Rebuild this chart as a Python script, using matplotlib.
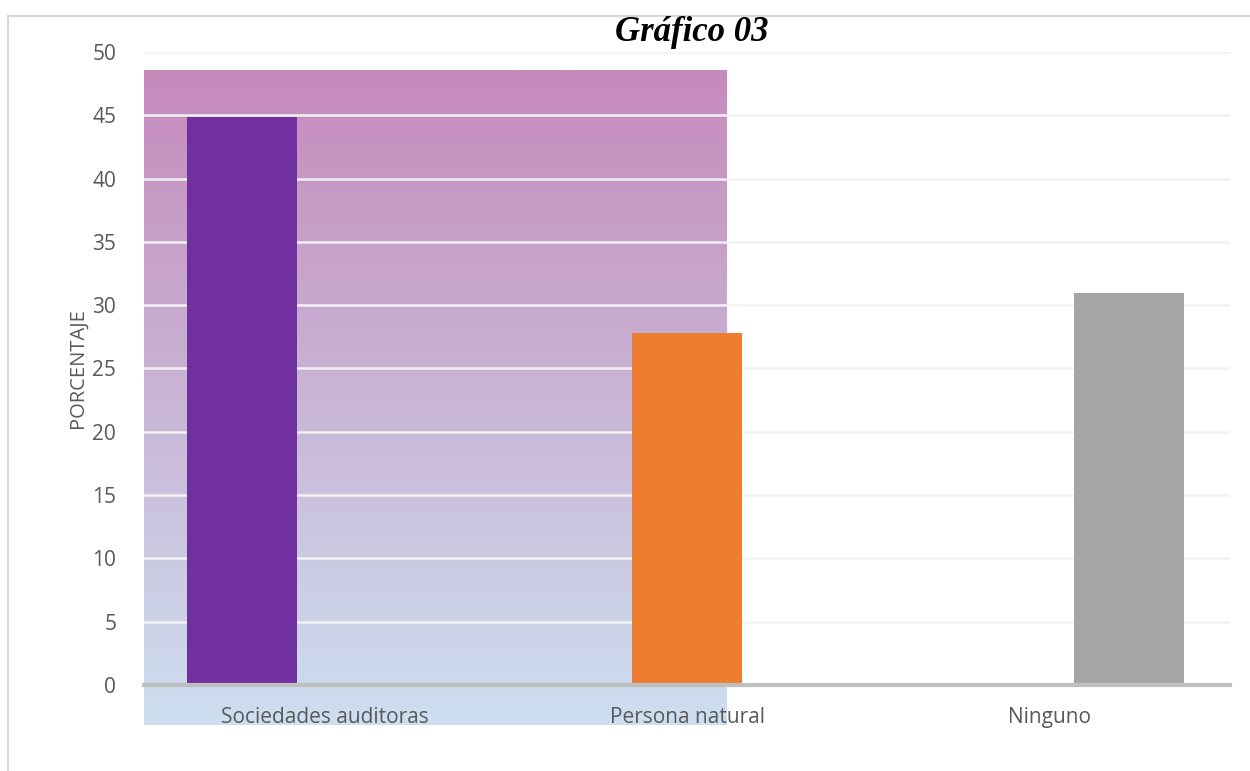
import numpy as np
import matplotlib.pyplot as plt
from matplotlib.colors import LinearSegmentedColormap
from matplotlib.lines import Line2D

categories = ['Sociedades auditoras', 'Persona natural', 'Ninguno']
values = [44.9, 27.8, 31.0]
bar_colors = ['#7030A0', '#ED7D31', '#A5A5A5']
bar_offsets = [-0.23, 0.0, 0.22]
yticks = list(range(0, 51, 5))

fig = plt.figure(figsize=(12.5, 7.71), dpi=100)
ax = fig.add_axes([0.1152, 0.1115, 0.8688, 0.8211])

x = np.arange(len(categories))
ax.set_xlim(-0.5, 2.5)
ax.set_ylim(0, 50)

# gradient block behind the first two categories
cmap = LinearSegmentedColormap.from_list('grad', ['#C68ABC', '#CDDFF0'])
grad = np.linspace(0, 1, 256).reshape(-1, 1)
ax.imshow(grad, cmap=cmap, aspect='auto', extent=(-0.5, 1.11, -3.16, 48.5),
          origin='upper', zorder=0, clip_on=False)

ax.bar(x + np.array(bar_offsets), values, width=0.304, color=bar_colors, zorder=3)

ax.set_yticks(yticks)
ax.yaxis.grid(True, color='#F2F2F2', linewidth=1.8, zorder=1)
ax.set_axisbelow(True)
for s in ['top', 'right', 'left']:
    ax.spines[s].set_visible(False)
ax.spines['bottom'].set_color('#BFBFBF')
ax.spines['bottom'].set_linewidth(3)
ax.spines['bottom'].set_zorder(4)

ax.set_xticks(x)
ax.set_xticklabels(categories)
ax.tick_params(axis='both', length=0, labelsize=15, labelcolor='#595959', labelfontfamily='Open Sans')
ax.tick_params(axis='x', pad=16)
ax.tick_params(axis='y', pad=20)
ax.set_ylabel('PORCENTAJE', fontsize=14.5, color='#595959', family='Open Sans', labelpad=3)

fig.text(0.5535, 0.958, 'Gráfico 03', ha='center', va='center', fontsize=25,
         fontweight='bold', fontstyle='italic', family='Liberation Serif')

# chart frame (cut at right and bottom)
fig.add_artist(Line2D([8 / 1250, 1], [1 - 16 / 771] * 2, color='#D9D9D9', lw=1.5))
fig.add_artist(Line2D([8 / 1250] * 2, [0, 1 - 16 / 771], color='#D9D9D9', lw=1.5))

fig.savefig('out.png', dpi=100)
